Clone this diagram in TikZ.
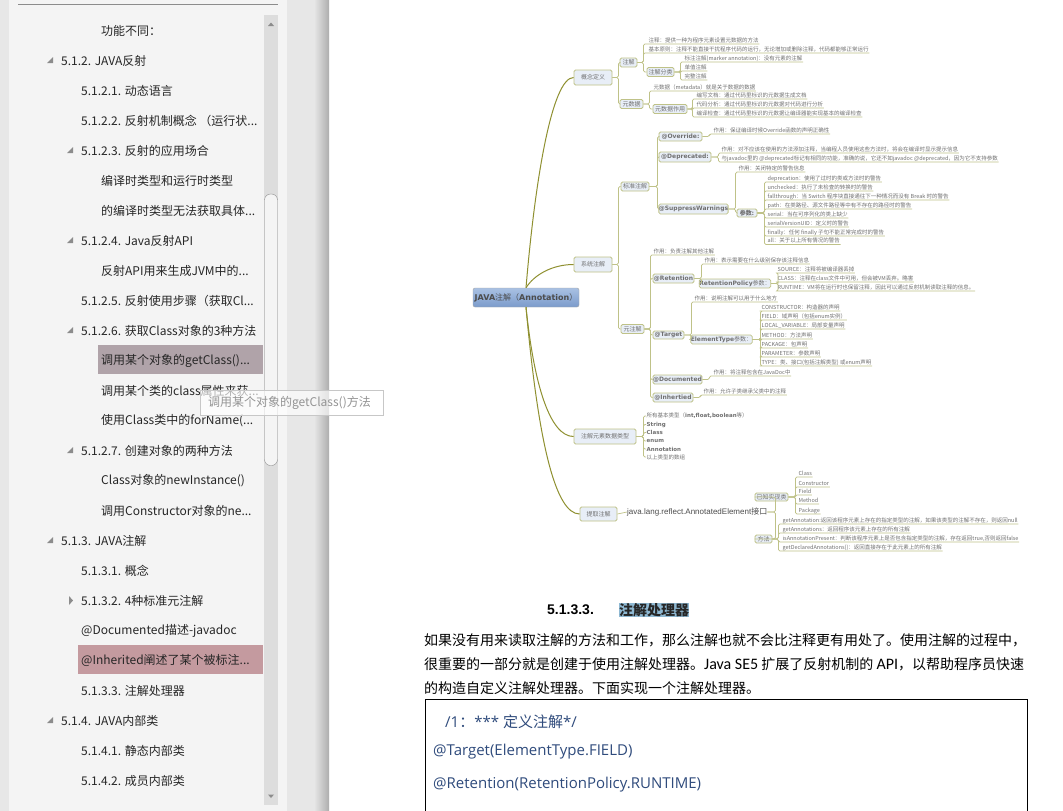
\documentclass[tikz,border=0pt]{standalone}
\usepackage{fontspec}
\setmainfont{Noto Sans CJK SC}
\newfontfamily\calibri{Carlito}
\newfontfamily\arialf{Liberation Sans}
\newfontfamily\dejav{DejaVu Sans}
\newfontfamily\opens{Open Sans}
\newfontfamily\cjkf{Noto Sans CJK SC}
\definecolor{panelgray}{HTML}{F4F4F4}
\definecolor{guttergray}{HTML}{E7E7E7}
\definecolor{trackgray}{HTML}{DDDDDD}
\definecolor{olivemain}{HTML}{8F9030}
\definecolor{olivelink}{HTML}{BFC288}
\definecolor{leafgray}{HTML}{707070}
\definecolor{codeblue}{HTML}{2F4B7C}
\definecolor{markmauve}{HTML}{B0A3A9}
\definecolor{markrose}{HTML}{C49A9F}
\definecolor{marktitle}{HTML}{8FB9D3}
\definecolor{topicblue}{HTML}{E8EEF7}
\definecolor{roottop}{HTML}{A9C1E3}
\definecolor{rootbot}{HTML}{7B9BCB}
\newcommand{\pxfont}[1]{\fontsize{#1}{#1}\selectfont}
\newcommand{\bd}[1]{{\dejav\bfseries #1}}
\tikzset{
	tocitem/.style={anchor=west,inner sep=0pt,yshift=-0.8pt,font=\pxfont{12},text=black!85},
	topic/.style={draw=olivelink,fill=topicblue,rounded corners=1.5pt,line width=0.8pt,inner sep=0pt,text=leafgray,font=\pxfont{6}},
	leaf/.style={anchor=south west,inner xsep=0.5pt,inner ysep=0.6pt,text height=4.4pt,text depth=1pt,text=leafgray,font=\pxfont{5.5}},
	plainleaf/.style={anchor=west,inner xsep=0.5pt,inner ysep=0pt,text=leafgray,font=\pxfont{5.5}},
	link/.style={draw=olivelink,line width=0.7pt,rounded corners=1.5pt},
	mainlink/.style={draw=olivemain,line width=1pt},
	expander/.style={fill=black!45},
	bodyline/.style={anchor=west,inner sep=0pt,font=\pxfont{14},text=black},
	codeline/.style={anchor=west,inner sep=0pt,yshift=-0.8pt,font=\pxfont{15},text=codeblue}
}
\begin{document}
\begin{tikzpicture}[x=1pt,y=-1pt]
	\useasboundingbox (0,0) rectangle (1063,811);
	\fill[white] (0,0) rectangle (1063,811);
	\fill[guttergray] (0,0) rectangle (329,811);
	\fill[panelgray] (9,0) rectangle (287,811);
	\shade[left color=guttergray,right color=black!32] (314,0) rectangle (329,811);
	\draw[black!45] (18,4.5) -- (278,4.5);
	\fill[trackgray] (264,15) rectangle (278,805);
	\draw[black!45,fill=panelgray,rounded corners=6pt] (264.5,194) rectangle (277.5,465.5);
	\fill[black!45] (268,26) -- (271,22.5) -- (274,26) -- cycle;
	\fill[black!45] (268,794.5) -- (271,798) -- (274,794.5) -- cycle;
	\fill[markmauve] (98,345) rectangle (263,374);
	\fill[markrose] (78,645) rectangle (263,674);
	\foreach \tx/\ty in {53/57,53/537,53/717,73/147,73/237,73/327,73/447}
		\fill[expander] (\tx,\ty) -- ++(0,6) -- ++(-6,0) -- cycle;
	\fill[expander] (69,596) -- (73,600.5) -- (69,605) -- cycle;

	\path (101,30) node[tocitem] (toca) {功能不同：};
	\path (61,60) node[tocitem] (tocb) {5.1.2. JAVA反射};
	\path (81,90) node[tocitem] (tocc) {5.1.2.1. 动态语言};
	\path (81,120) node[tocitem] (tocd) {5.1.2.2. 反射机制概念 （运行状...};
	\path (81,150) node[tocitem] (toce) {5.1.2.3. 反射的应用场合};
	\path (101,180) node[tocitem] (tocf) {编译时类型和运行时类型};
	\path (101,210) node[tocitem] (tocg) {的编译时类型无法获取具体...};
	\path (81,240) node[tocitem] (toch) {5.1.2.4. Java反射API};
	\path (101,270) node[tocitem] (toci) {反射API用来生成JVM中的...};
	\path (81,300) node[tocitem] (tocj) {5.1.2.5. 反射使用步骤（获取Cl...};
	\path (81,330) node[tocitem] (tock) {5.1.2.6. 获取Class对象的3种方法};
	\path (101,360) node[tocitem] (tocl) {调用某个对象的getClass()...};
	\path (101,390) node[tocitem] (tocm) {调用某个类的class属性来获...};
	\path (101,420) node[tocitem] (tocn) {使用Class类中的forName(...};
	\path (81,450) node[tocitem] (toco) {5.1.2.7. 创建对象的两种方法};
	\path (101,480) node[tocitem] (tocp) {Class对象的newInstance()};
	\path (101,510) node[tocitem] (tocq) {调用Constructor对象的ne...};
	\path (61,540) node[tocitem] (tocr) {5.1.3. JAVA注解};
	\path (81,570) node[tocitem] (tocs) {5.1.3.1. 概念};
	\path (81,600) node[tocitem] (toct) {5.1.3.2. 4种标准元注解};
	\path (81,630) node[tocitem] (tocu) {@Documented描述-javadoc};
	\path (81,660) node[tocitem] (tocv) {@Inherited阐述了某个被标注...};
	\path (81,690) node[tocitem] (tocw) {5.1.3.3. 注解处理器};
	\path (61,720) node[tocitem] (tocx) {5.1.4. JAVA内部类};
	\path (81,750) node[tocitem] (tocy) {5.1.4.1. 静态内部类};
	\path (81,780) node[tocitem] (tocz) {5.1.4.2. 成员内部类};
	\path (291.5,402.5) node[draw=black!22,fill=white,fill opacity=0.65,text opacity=1,text width=167pt,minimum height=25pt,inner xsep=8pt,inner ysep=0pt,font=\pxfont{12},text=black!42] (tooltip) {调用某个对象的getClass()方法};

	\path (526,297.5) node[draw=black!35,top color=roottop,bottom color=rootbot,rounded corners=2pt,minimum width=106pt,minimum height=19pt,inner sep=0pt,text=black!70,font=\pxfont{8}] (root) {\bd{JAVA}注解（\bd{Annotation}）};
	\path (593,77.5) node[topic,minimum width=38pt,minimum height=15pt] (gainian) {概念定义};
	\path (593,264.5) node[topic,minimum width=38pt,minimum height=15pt] (xitong) {系统注解};
	\path (605,436.5) node[topic,minimum width=62pt,minimum height=15pt] (leixing) {注解元素数据类型};
	\path (598.5,514) node[topic,minimum width=37pt,minimum height=14pt] (tiqu) {提取注解};

	\draw[mainlink] (root.north) .. controls (535,180) and (552,77.5) .. (gainian.west);
	\draw[mainlink] (root.north) .. controls (534,275) and (552,264.5) .. (xitong.west);
	\draw[mainlink] (root.south) .. controls (534,385) and (550,436.5) .. (leixing.west);
	\draw[mainlink] (root.south) .. controls (538,440) and (555,514) .. (tiqu.west);

	\path (628.5,62.5) node[topic,minimum width=17pt,minimum height=9pt] (zhujie) {注解};
	\path (631.5,104) node[topic,minimum width=23pt,minimum height=9pt] (yuan) {元数据};
	\path (635,186.5) node[topic,minimum width=28pt,minimum height=9pt] (biaozhun) {标准注解};
	\path (632.5,329) node[topic,minimum width=23pt,minimum height=9pt] (yuanzhu) {元注解};
	\foreach \kid in {zhujie,yuan} \draw[link] (gainian.east) -- ++(6,0) |- (\kid.west);
	\foreach \kid in {biaozhun,yuanzhu} \draw[link] (xitong.east) -- ++(6,0) |- (\kid.west);

	\path (648,44) node[leaf] (zha) {注释：提供一种为程序元素设置元数据的方法};
	\path (648,53) node[leaf] (zhb) {基本原则：注释不能直接干扰程序代码的运行，无论增加或删除注释，代码都能够正常运行};
	\path (660.5,72) node[topic,minimum width=27pt,minimum height=9pt] (fenlei) {注解分类};
	\path (684,62) node[leaf] (fla) {标注注解(marker annotation)：没有元素的注解};
	\path (684,71) node[leaf] (flb) {单值注解};
	\path (684,80) node[leaf] (flc) {完整注解};
	\foreach \kid in {zha,zhb} \draw[link] (zhujie.east) -- ++(6,0) |- (\kid.south west) -- (\kid.south east);
	\draw[link] (zhujie.east) -- ++(6,0) |- (fenlei.west);
	\foreach \kid in {fla,flb,flc} \draw[link] (fenlei.east) -- ++(6,0) |- (\kid.south west) -- (\kid.south east);

	\path (653,91) node[leaf] (yya) {元数据（metadata）就是关于数据的数据};
	\path (670,109) node[topic,minimum width=34pt,minimum height=9pt] (zuoyong) {元数据作用};
	\path (696,99) node[leaf] (zya) {编写文档：通过代码里标识的元数据生成文档};
	\path (696,108) node[leaf] (zyb) {代码分析：通过代码里标识的元数据对代码进行分析};
	\path (696,117) node[leaf] (zyc) {编译检查：通过代码里标识的元数据让编译器能实现基本的编译检查};
	\draw[link] (yuan.east) -- ++(6,0) |- (yya.south west) -- (yya.south east);
	\draw[link] (yuan.east) -- ++(6,0) |- (zuoyong.west);
	\foreach \kid in {zya,zyb,zyc} \draw[link] (zuoyong.east) -- ++(5,0) |- (\kid.south west) -- (\kid.south east);

	\path (680.5,136.5) node[topic,minimum width=43pt,minimum height=9pt] (overr) {\bd{@Override:}};
	\path (685,157) node[topic,minimum width=52pt,minimum height=10pt] (depr) {\bd{@Deprecated:}};
	\path (693.5,209) node[topic,minimum width=69pt,minimum height=10pt] (suppr) {\bd{@SuppressWarnings}};
	\foreach \kid in {overr,depr,suppr} \draw[link] (biaozhun.east) -- ++(8,0) |- (\kid.west);
	\path (713,134) node[leaf] (ova) {作用：保证编译时候Override函数的声明正确性};
	\draw[link] (overr.east) -- ++(7,0) |- (ova.south west) -- (ova.south east);
	\path (721,153) node[leaf] (dpa) {作用：对不应该在使用的方法添加注释，当编程人员使用这些方法时，将会在编译时显示提示信息};
	\path (721,162) node[leaf] (dpb) {与javadoc里的 @deprecated标记有相同的功能，准确的说，它还不如javadoc @deprecated，因为它不支持参数};
	\foreach \kid in {dpa,dpb} \draw[link] (depr.east) -- ++(7,0) |- (\kid.south west) -- (\kid.south east);
	\path (738,172) node[leaf] (spa) {作用：关闭特定的警告信息};
	\path (747,213) node[topic,minimum width=20pt,minimum height=8pt] (canshu) {{\bfseries 参数:}};
	\draw[link] (suppr.east) -- ++(7,0) |- (spa.south west) -- (spa.south east);
	\draw[link] (suppr.east) -- ++(7,0) |- (canshu.west);
	\path (767,182) node[leaf] (csa) {deprecation：使用了过时的类或方法时的警告};
	\path (767,191) node[leaf] (csb) {unchecked：执行了未检查的转换时的警告};
	\path (767,200) node[leaf] (csc) {fallthrough：当 Switch 程序块直接通往下一种情况而没有 Break 时的警告};
	\path (767,209) node[leaf] (csd) {path：在类路径、源文件路径等中有不存在的路径时的警告};
	\path (767,218) node[leaf] (cse) {serial：当在可序列化的类上缺少};
	\path (767,227) node[leaf] (csf) {serialVersionUID：定义时的警告};
	\path (767,236) node[leaf] (csg) {finally：任何 finally 子句不能正常完成时的警告};
	\path (767,244.5) node[leaf] (csh) {all：关于以上所有情况的警告};
	\foreach \kid in {csa,csb,csc,csd,cse,csf,csg,csh} \draw[link] (canshu.east) -- ++(7,0) |- (\kid.south west) -- (\kid.south east);

	\path (653,255) node[leaf] (yza) {作用：负责注解其他注解};
	\path (673.5,278.5) node[topic,minimum width=41pt,minimum height=9pt] (reten) {\bd{@Retention}};
	\path (668.5,335) node[topic,minimum width=31pt,minimum height=8pt] (targ) {\bd{@Target}};
	\path (677.5,379.5) node[topic,minimum width=49pt,minimum height=9pt] (docu) {\bd{@Documented}};
	\path (673,397.5) node[topic,minimum width=40pt,minimum height=9pt] (inher) {\bd{@Inhertied}};
	\draw[link] (yuanzhu.east) -- ++(6,0) |- (yza.south west) -- (yza.south east);
	\foreach \kid in {reten,targ,docu,inher} \draw[link] (yuanzhu.east) -- ++(6,0) |- (\kid.west);

	\path (704,264) node[leaf] (rta) {作用：表示需要在什么级别保存该注释信息};
	\path (735,283.5) node[topic,minimum width=64pt,minimum height=9pt] (rpol) {\bd{RetentionPolicy}参数：};
	\draw[link] (reten.east) -- ++(7,0) |- (rta.south west) -- (rta.south east);
	\draw[link] (reten.east) -- ++(7,0) |- (rpol.west);
	\path (777,273) node[leaf] (rpa) {SOURCE：注释将被编译器丢掉};
	\path (777,282) node[leaf] (rpb) {CLASS：注释在class文件中可用，但会被VM丢弃。略害};
	\path (777,291) node[leaf] (rpc) {RUNTIME：VM将在运行时也保留注释，因此可以通过反射机制读取注释的信息。};
	\foreach \kid in {rpa,rpb,rpc} \draw[link] (rpol.east) -- ++(7,0) |- (\kid.south west) -- (\kid.south east);

	\path (694,302) node[leaf] (tga) {作用：说明注解可以用于什么地方};
	\path (721.5,339.5) node[topic,minimum width=57pt,minimum height=9pt] (etype) {\bd{ElementType}参数：};
	\draw[link] (targ.east) -- ++(7,0) |- (tga.south west) -- (tga.south east);
	\draw[link] (targ.east) -- ++(7,0) |- (etype.west);
	\path (761,311) node[leaf] (eta) {CONSTRUCTOR：构造器的声明};
	\path (761,320) node[leaf] (etb) {FIELD：域声明（包括enum实例）};
	\path (761,329) node[leaf] (etc) {LOCAL\_VARIABLE：局部变量声明};
	\path (761,339) node[leaf] (etd) {METHOD：方法声明};
	\path (761,348) node[leaf] (ete) {PACKAGE：包声明};
	\path (761,357) node[leaf] (etf) {PARAMETER：参数声明};
	\path (761,366) node[leaf] (etg) {TYPE：类、接口(包括注解类型) 或enum声明};
	\foreach \kid in {eta,etb,etc,etd,ete,etf,etg} \draw[link] (etype.east) -- ++(8,0) |- (\kid.south west) -- (\kid.south east);

	\path (713,376) node[leaf] (dca) {作用：将注释包含在JavaDoc中};
	\path (703,395) node[leaf] (ina) {作用：允许子类继承父类中的注释};
	\draw[link] (docu.east) -- ++(7,0) |- (dca.south west) -- (dca.south east);
	\draw[link] (inher.east) -- ++(7,0) |- (ina.south west) -- (ina.south east);

	\path (646,416) node[plainleaf] (lxa) {所有基本类型（\bd{int,float,boolean}等）};
	\path (646,424.5) node[plainleaf] (lxb) {\bd{String}};
	\path (646,432.5) node[plainleaf] (lxc) {\bd{Class}};
	\path (646,441) node[plainleaf] (lxd) {\bd{enum}};
	\path (646,449) node[plainleaf] (lxe) {\bd{Annotation}};
	\path (646,457) node[plainleaf] (lxf) {以上类型的数组};
	\foreach \kid in {lxa,lxb,lxc,lxd,lxe,lxf} \draw[link] (leixing.east) -- ++(7,0) |- (\kid.west);

	\path (627,512) node[anchor=west,inner sep=0pt,text=black!70,font=\pxfont{8}] (jiekou) {{\arialf java.lang.reflect.AnnotatedElement}接口};
	\draw[link] (tiqu.east) -- (jiekou.west);
	\path (771.5,497) node[topic,minimum width=33pt,minimum height=8pt] (shixian) {已知实现类};
	\path (763.5,539) node[topic,minimum width=17pt,minimum height=8pt] (fangfa) {方法};
	\foreach \kid in {shixian,fangfa} \draw[link] (jiekou.east) -- ++(8,0) |- (\kid.west);
	\path (798,477) node[leaf] (sxa) {Class};
	\path (798,487) node[leaf] (sxb) {Constructor};
	\path (798,495) node[leaf] (sxc) {Field};
	\path (798,504) node[leaf] (sxd) {Method};
	\path (798,514) node[leaf] (sxe) {Package};
	\foreach \kid in {sxa,sxb,sxc,sxd,sxe} \draw[link] (shixian.east) -- ++(7,0) |- (\kid.south west) -- (\kid.south east);
	\path (782,524) node[leaf] (ffa) {getAnnotation:返回该程序元素上存在的指定类型的注解，如果该类型的注解不存在，则返回null};
	\path (782,533) node[leaf] (ffb) {getAnnotations：返回程序该元素上存在的所有注解};
	\path (782,542) node[leaf] (ffc) {isAnnotationPresent：判断该程序元素上是否包含指定类型的注解，存在返回true,否则返回false};
	\path (782,551) node[leaf] (ffd) {getDeclaredAnnotations()：返回直接存在于此元素上的所有注解};
	\foreach \kid in {ffa,ffb,ffc,ffd} \draw[link] (fangfa.east) -- ++(6,0) |- (\kid.south west) -- (\kid.south east);

	\path (547,610) node[anchor=west,inner sep=0pt,font=\pxfont{14}\arialf\bfseries] (secnum) {5.1.3.3.};
	\path (619,610) node[anchor=west,fill=marktitle,inner xsep=0pt,inner ysep=0.5pt,text=black!85,font=\pxfont{14}\bfseries] (sectitle) {注解处理器};
	\path (424,640) node[bodyline] (paraa) {如果没有用来读取注解的方法和工作，那么注解也就不会比注释更有用处了。使用注解的过程中，};
	\path (424,664) node[bodyline] (parab) {很重要的一部分就是创建于使用注解处理器。{\calibri\pxfont{16}Java SE5} 扩展了反射机制的 {\calibri\pxfont{16}API}，以帮助程序员快速};
	\path (424,688) node[bodyline] (parac) {的构造自定义注解处理器。下面实现一个注解处理器。};
	\draw[black,line width=0.8pt] (425.5,699.5) rectangle (1027,830);
	\path (445,721) node[codeline] (codea) {{\opens /1}：{\opens *** }定义注解{\opens */}};
	\path (433,751) node[codeline,font=\pxfont{15}\opens] (codeb) {@Target(ElementType.FIELD)};
	\path (433,784) node[codeline,font=\pxfont{15}\opens] (codec) {@Retention(RetentionPolicy.RUNTIME)};
\end{tikzpicture}
\end{document}
